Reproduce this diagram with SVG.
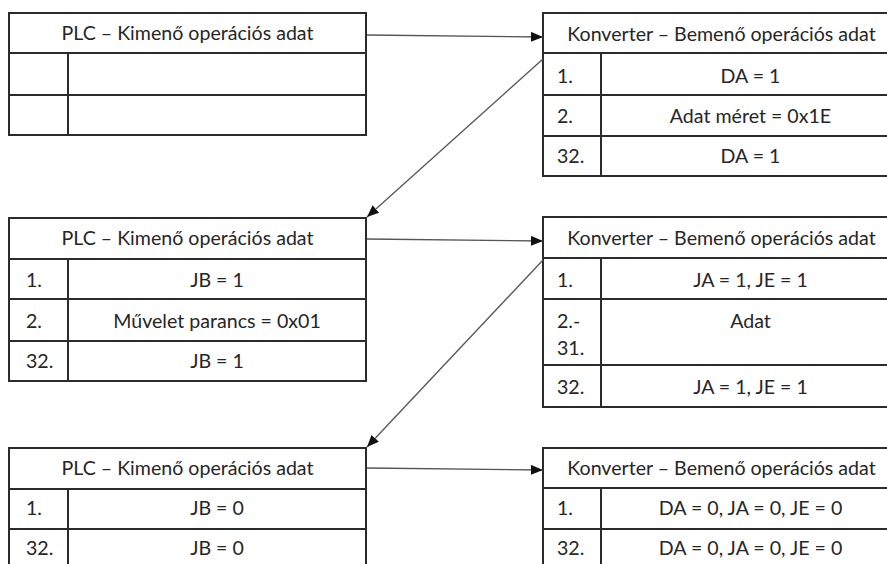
<svg xmlns="http://www.w3.org/2000/svg" width="887" height="564" viewBox="0 0 887 564">
<style>
.b{fill:#fff;stroke:#2b2b2b;stroke-width:2}
.l{stroke:#2b2b2b;stroke-width:2;fill:none}
text{font-family:Lato,"Open Sans","Liberation Sans",sans-serif;font-size:19.6px;fill:#262626}
.c{text-anchor:middle}
.cn{stroke:#555;stroke-width:1.3;fill:none;marker-end:url(#ah)}
</style>
<defs>
<marker id="ah" viewBox="0 0 12 10" refX="12" refY="5" markerWidth="12" markerHeight="10" markerUnits="userSpaceOnUse" orient="auto">
<path d="M0,0 L12,5 L0,10 Z" fill="#111"/>
</marker>
</defs>

<g id="plc1">
<rect class="b" x="9" y="13" width="357" height="122"/>
<path class="l" d="M9,53 H366 M9,95 H366 M68,53 V135"/>
<text class="c" x="187.5" y="40">PLC – Kimenő operációs adat</text>
</g>

<g id="konv1">
<rect class="b" x="543" y="13" width="357" height="163"/>
<path class="l" d="M543,53 H900 M543,95 H900 M543,136 H900 M601,53 V176"/>
<text class="c" x="721.5" y="41">Konverter – Bemenő operációs adat</text>
<text x="557" y="83">1.</text>
<text class="c" x="750.5" y="83">DA = 1</text>
<text x="557" y="123">2.</text>
<text class="c" x="750.5" y="123">Adat méret = 0x1E</text>
<text x="557" y="163">32.</text>
<text class="c" x="750.5" y="163">DA = 1</text>
</g>

<g id="plc2">
<rect class="b" x="9" y="218" width="357" height="163"/>
<path class="l" d="M9,259 H366 M9,299 H366 M9,341 H366 M68,259 V381"/>
<text class="c" x="187.5" y="245">PLC – Kimenő operációs adat</text>
<text x="26" y="287">1.</text>
<text class="c" x="217" y="287">JB = 1</text>
<text x="26" y="328">2.</text>
<text class="c" x="217" y="328">Művelet parancs = 0x01</text>
<text x="26" y="368">32.</text>
<text class="c" x="217" y="368">JB = 1</text>
</g>

<g id="konv2">
<rect class="b" x="543" y="217" width="357" height="190"/>
<path class="l" d="M543,258 H900 M543,299 H900 M543,365 H900 M601,258 V407"/>
<text class="c" x="721.5" y="245">Konverter – Bemenő operációs adat</text>
<text x="557" y="287">1.</text>
<text class="c" x="750.5" y="287">JA = 1, JE = 1</text>
<text x="557" y="328">2.-</text>
<text x="557" y="355">31.</text>
<text class="c" x="750.5" y="328">Adat</text>
<text x="557" y="394">32.</text>
<text class="c" x="750.5" y="394">JA = 1, JE = 1</text>
</g>

<g id="plc3">
<rect class="b" x="9" y="448" width="357" height="130"/>
<path class="l" d="M9,489 H366 M9,529 H366 M68,489 V578"/>
<text class="c" x="187.5" y="475">PLC – Kimenő operációs adat</text>
<text x="26" y="515">1.</text>
<text class="c" x="217" y="515">JB = 0</text>
<text x="26" y="555">32.</text>
<text class="c" x="217" y="555">JB = 0</text>
</g>

<g id="konv3">
<rect class="b" x="543" y="448" width="357" height="130"/>
<path class="l" d="M543,488 H900 M543,529 H900 M601,488 V578"/>
<text class="c" x="721.5" y="475">Konverter – Bemenő operációs adat</text>
<text x="557" y="515">1.</text>
<text class="c" x="750.5" y="515">DA = 0, JA = 0, JE = 0</text>
<text x="557" y="555">32.</text>
<text class="c" x="750.5" y="555">DA = 0, JA = 0, JE = 0</text>
</g>

<g id="connectors">
<line class="cn" x1="367" y1="35" x2="543" y2="37"/>
<line class="cn" x1="543" y1="59" x2="367" y2="217"/>
<line class="cn" x1="367" y1="239" x2="543" y2="241"/>
<line class="cn" x1="543" y1="260" x2="367" y2="447"/>
<line class="cn" x1="367" y1="468" x2="543" y2="470"/>
</g>
</svg>
